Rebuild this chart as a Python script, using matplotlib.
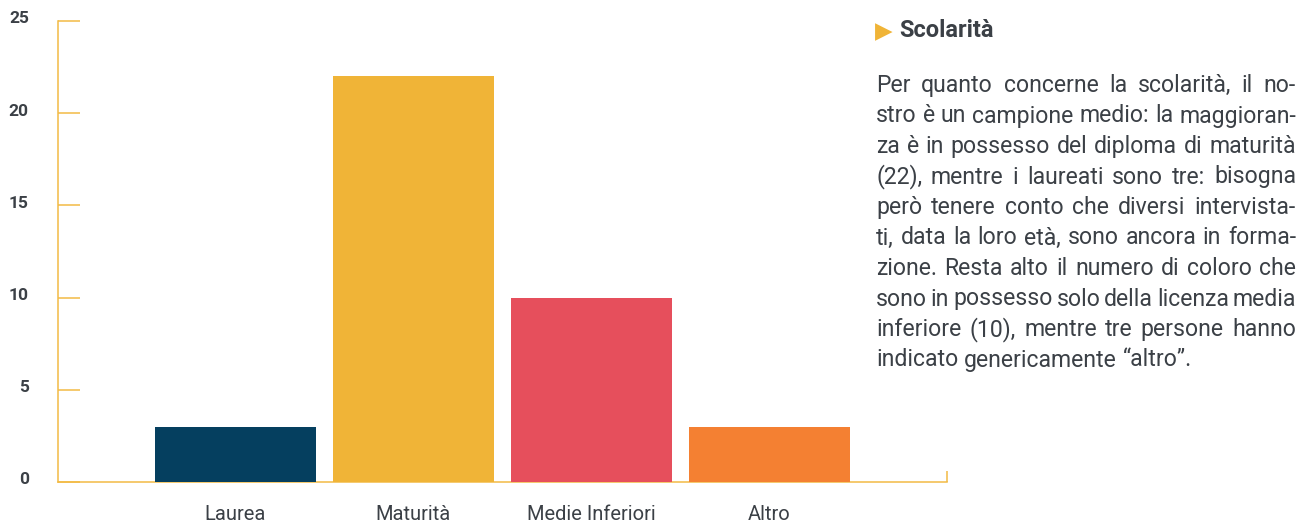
import matplotlib
matplotlib.use("Agg")
import matplotlib.pyplot as plt
import matplotlib.transforms as mtransforms
import numpy as np

categories = ["Laurea", "Maturità", "Medie Inferiori", "Altro"]
values = [3, 22, 10, 3]
colors = ["#053F5F", "#F0B437", "#E64F5C", "#F48032"]
yticks = [0, 5, 10, 15, 20, 25]

title = "Scolarità"
paragraph_lines = [
    "Per quanto concerne la scolarità, il no-",
    "stro è un campione medio: la maggioran-",
    "za è in possesso del diploma di maturità",
    "(22), mentre i laureati sono tre: bisogna",
    "però tenere conto che diversi intervista-",
    "ti, data la loro età, sono ancora in forma-",
    "zione. Resta alto il numero di coloro che",
    "sono in possesso solo della licenza media",
    "inferiore (10), mentre tre persone hanno",
    "indicato genericamente “altro”.",
]

W, H = 1309, 524
TXT = "#3B4046"
AXC = "#F3BB45"
plt.rcParams["font.family"] = ["Roboto", "DejaVu Sans"]

fig = plt.figure(figsize=(W / 100, H / 100), dpi=100)
ax = fig.add_axes([58 / W, 1 - 482 / H, (947 - 58) / W, (482 - 21) / H])

x = np.arange(len(categories))
ax.bar(x, values, width=0.905, color=colors, zorder=3)
ax.set_xlim(-0.997, 3.997)
ax.set_ylim(0, 25)

for s in ["top", "right"]:
    ax.spines[s].set_visible(False)
for s in ["left", "bottom"]:
    ax.spines[s].set_color(AXC)
    ax.spines[s].set_linewidth(1.1)

ax.set_yticks(yticks)
ax.set_yticklabels([str(v) for v in yticks])
ax.tick_params(axis="y", direction="in", length=16, width=1.1, color=AXC,
               pad=21, labelsize=12.5, labelcolor=TXT)
up = mtransforms.ScaledTranslation(0, 3.5 / 100, fig.dpi_scale_trans)
for lab in ax.get_yticklabels():
    lab.set_fontweight("bold")
    lab.set_transform(lab.get_transform() + up)

ax.set_xticks(x)
ax.set_xticklabels(categories)
ax.tick_params(axis="x", length=0, pad=16.5, labelsize=14.5, labelcolor=TXT)
ax.set_xticks([3.997], minor=True)
ax.tick_params(axis="x", which="minor", direction="in", length=8, width=1.1, color=AXC)

# Right-hand text block
renderer = fig.canvas.get_renderer()

def px(xp, yp):
    return xp / W, 1 - yp / H

fig.text(*px(875, 38), "▶", fontsize=16.5, color="#F0B437", ha="left",
         va="baseline", family=["DejaVu Sans"])
fig.text(*px(899, 37), title, fontsize=17, fontweight="bold", color=TXT,
         ha="left", va="baseline")

x0, x1 = 876, 1296
baseline0, step = 92, 30.5

def wwidth(s, size):
    t = fig.text(0, 0, s, fontsize=size)
    w = t.get_window_extent(renderer).width
    t.remove()
    return w

fs = 17.0
while fs > 10:
    sp = wwidth("a a", fs) - wwidth("aa", fs)
    ok = True
    for line in paragraph_lines[:-1]:
        words = line.split(" ")
        nat = sum(wwidth(w, fs) for w in words) + 0.55 * sp * (len(words) - 1)
        if nat > x1 - x0:
            ok = False
            break
    if ok:
        break
    fs -= 0.2

space_w = wwidth("a a", fs) - wwidth("aa", fs)
for i, line in enumerate(paragraph_lines):
    yb = baseline0 + i * step
    words = line.split(" ")
    last = i == len(paragraph_lines) - 1
    widths = [wwidth(w, fs) for w in words]
    if last or len(words) == 1:
        gap = space_w
    else:
        gap = (x1 - x0 - sum(widths)) / (len(words) - 1)
    xc = x0
    for w, wd in zip(words, widths):
        fig.text(*px(xc, yb), w, fontsize=fs, color=TXT, ha="left", va="baseline")
        xc += wd + gap

fig.savefig("out.png", dpi=100)
